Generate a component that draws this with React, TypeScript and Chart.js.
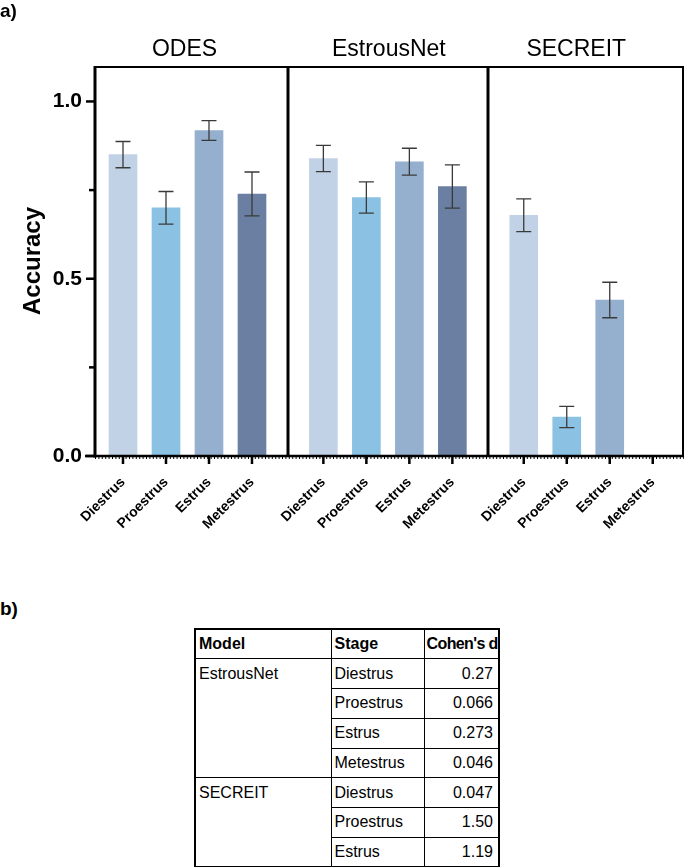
import React, { useEffect, useRef } from 'react';
import { Chart, registerables } from 'chart.js';

Chart.register(...registerables);

// ---------- data ----------
const models = ['ODES', 'EstrousNet', 'SECREIT'];
const stages = ['Diestrus', 'Proestrus', 'Estrus', 'Metestrus'];
const odesMean = [0.85, 0.70, 0.918, 0.739];
const odesErr = [0.037, 0.046, 0.028, 0.062];
const estrousNetMean = [0.839, 0.729, 0.830, 0.760];
const estrousNetErr = [0.037, 0.044, 0.038, 0.061];
const secreitMean: (number | null)[] = [0.679, 0.11, 0.44, null];
const secreitErr: (number | null)[] = [0.046, 0.03, 0.05, null];
const stageColors = ['#c2d2e6', '#8bc1e3', '#95b0cf', '#6a7fa1'];
const yTickValues = [0, 0.25, 0.5, 0.75, 1.0];
const yLabelValues = [0, 0.5, 1.0];

const tableHeader = ['Model', 'Stage', "Cohen's d"];
const tableModel = ['EstrousNet', 'EstrousNet', 'EstrousNet', 'EstrousNet', 'SECREIT', 'SECREIT', 'SECREIT'];
const tableStage = ['Diestrus', 'Proestrus', 'Estrus', 'Metestrus', 'Diestrus', 'Proestrus', 'Estrus'];
const tableD = ['0.27', '0.066', '0.273', '0.046', '0.047', '1.50', '1.19'];

// ---------- layout constants ----------
const FONT = 'Arial, "Liberation Sans", Helvetica, sans-serif';
const GROUP_STRIDE = 4.66; // x-units between first bars of successive groups
const X_MIN = -0.651;
const X_MAX = 13.047;
const Y_MAX = 1.10;

const means = [odesMean, estrousNetMean, secreitMean];
const errs = [odesErr, estrousNetErr, secreitErr];

type Pt = { x: number; y: number | null; err: number | null; g: number; s: number };
const points: Pt[] = [];
models.forEach((_, g) => {
  stages.forEach((_, s) => {
    points.push({ x: g * GROUP_STRIDE + s, y: means[g][s], err: errs[g][s], g, s });
  });
});

const framePlugin = {
  id: 'frame',
  afterDatasetsDraw(chart: any) {
    const { ctx, chartArea } = chart;
    const xs = chart.scales.x;
    const ys = chart.scales.y;
    const { left, right, top, bottom } = chartArea;
    ctx.save();

    // error bars
    const meta = chart.getDatasetMeta(0);
    ctx.strokeStyle = '#3a3a3a';
    ctx.lineWidth = 1.3;
    points.forEach((p, i) => {
      if (p.y == null || p.err == null) return;
      const el = meta.data[i];
      if (!el) return;
      const x = el.x;
      const y1 = ys.getPixelForValue(p.y + p.err);
      const y2 = ys.getPixelForValue(p.y - p.err);
      ctx.beginPath();
      ctx.moveTo(x, y1);
      ctx.lineTo(x, y2);
      ctx.moveTo(x - 7.5, y1);
      ctx.lineTo(x + 7.5, y1);
      ctx.moveTo(x - 7.5, y2);
      ctx.lineTo(x + 7.5, y2);
      ctx.stroke();
    });

    ctx.strokeStyle = '#000';
    // top & right
    ctx.lineWidth = 2;
    ctx.beginPath();
    ctx.moveTo(left, top + 1);
    ctx.lineTo(right - 1, top + 1);
    ctx.lineTo(right - 1, bottom);
    ctx.stroke();

    // dividers between model groups
    ctx.lineWidth = 3;
    for (let g = 1; g < models.length; g++) {
      const v = ((g - 1) * GROUP_STRIDE + stages.length - 1 + g * GROUP_STRIDE) / 2;
      const px = Math.round(xs.getPixelForValue(v));
      ctx.beginPath();
      ctx.moveTo(px, top);
      ctx.lineTo(px, bottom);
      ctx.stroke();
    }
    // left axis
    ctx.beginPath();
    ctx.moveTo(left, top);
    ctx.lineTo(left, bottom + 1.5);
    ctx.stroke();

    // bottom axis
    ctx.lineWidth = 2.5;
    ctx.beginPath();
    ctx.moveTo(left - 10, bottom);
    ctx.lineTo(right, bottom);
    ctx.stroke();
    // fine minor ticks beneath
    ctx.lineWidth = 2;
    ctx.setLineDash([1, 2.4]);
    ctx.beginPath();
    ctx.moveTo(left, bottom + 2);
    ctx.lineTo(right, bottom + 2);
    ctx.stroke();
    ctx.setLineDash([]);

    // y ticks
    ctx.lineWidth = 2.5;
    yTickValues.forEach((v) => {
      const py = ys.getPixelForValue(v);
      const len = yLabelValues.includes(v) ? 9 : 6;
      ctx.beginPath();
      ctx.moveTo(left - len, py);
      ctx.lineTo(left, py);
      ctx.stroke();
    });
    // x ticks
    points.forEach((p) => {
      const px = xs.getPixelForValue(p.x);
      ctx.beginPath();
      ctx.moveTo(px, bottom);
      ctx.lineTo(px, bottom + 8);
      ctx.stroke();
    });

    // panel titles
    ctx.fillStyle = '#000';
    ctx.font = `23px ${FONT}`;
    ctx.textAlign = 'center';
    ctx.textBaseline = 'middle';
    const titleOffsets = [-3, 1, -12];
    models.forEach((m, g) => {
      const c = xs.getPixelForValue(g * GROUP_STRIDE + (stages.length - 1) / 2) + titleOffsets[g];
      ctx.fillText(m, c, top - 16);
    });
    ctx.restore();
  },
};

function BarChart() {
  const ref = useRef<HTMLCanvasElement>(null);
  useEffect(() => {
    if (!ref.current) return;
    const chart = new Chart(ref.current, {
      type: 'bar',
      data: {
        datasets: [
          {
            data: points.map((p) => ({ x: p.x, y: p.y })) as any,
            backgroundColor: points.map((p) => stageColors[p.s]),
            borderWidth: 0,
            barThickness: 28,
          } as any,
        ],
      },
      options: {
        animation: false,
        responsive: false,
        devicePixelRatio: 1,
        layout: { padding: { top: 66, right: 1, left: 0, bottom: 0 } },
        plugins: { legend: { display: false }, tooltip: { enabled: false } },
        scales: {
          x: {
            type: 'linear',
            min: X_MIN,
            max: X_MAX,
            offset: false,
            border: { display: false },
            grid: { display: false, drawTicks: false },
            afterBuildTicks: (scale: any) => {
              scale.ticks = points.map((p) => ({ value: p.x }));
            },
            afterFit: (scale: any) => {
              scale.height = 104;
            },
            ticks: {
              autoSkip: false,
              minRotation: 45,
              maxRotation: 45,
              padding: 18,
              color: '#000',
              font: { family: FONT, size: 14, weight: 'bold' },
              callback: (_v: any, i: number) => stages[points[i].s],
            },
          },
          y: {
            min: 0,
            max: Y_MAX,
            border: { display: false },
            grid: { display: false, drawTicks: false },
            afterBuildTicks: (scale: any) => {
              scale.ticks = yTickValues.map((v) => ({ value: v }));
            },
            afterFit: (scale: any) => {
              scale.width = 95;
            },
            ticks: {
              padding: 13,
              color: '#000',
              font: { family: FONT, size: 21, weight: 'bold' },
              callback: (v: any) => (yLabelValues.includes(Number(v)) ? Number(v).toFixed(1) : ''),
            },
            title: {
              display: true,
              text: 'Accuracy',
              color: '#000',
              font: { family: FONT, size: 24, weight: 'bold' },
              padding: { top: 19, bottom: 0 },
            },
          },
        },
      },
      plugins: [framePlugin],
    });
    return () => chart.destroy();
  }, []);
  return <canvas ref={ref} width={685} height={560} style={{ position: 'absolute', left: 0, top: 0 }} />;
}

export default function App() {
  const cell: React.CSSProperties = {
    border: '1px solid #000',
    padding: '0 4px 0 3px',
    height: 29.75,
    boxSizing: 'border-box',
    verticalAlign: 'middle',
    whiteSpace: 'nowrap',
  };
  const rows: React.ReactNode[] = [];
  tableModel.forEach((m, i) => {
    const first = i === 0 || tableModel[i - 1] !== m;
    const span = tableModel.filter((x) => x === m).length;
    rows.push(
      <tr key={i} style={{ height: 29.75 }}>
        {first && (
          <td rowSpan={span} style={{ ...cell, verticalAlign: 'top', paddingTop: 6 }}>
            {m}
          </td>
        )}
        <td style={cell}>{tableStage[i]}</td>
        <td style={{ ...cell, textAlign: 'right', paddingRight: 5 }}>{tableD[i]}</td>
      </tr>
    );
  });
  return (
    <div style={{ position: 'absolute', left: 0, top: 0, width: 685, height: 867, background: '#fff', fontFamily: FONT }}>
      <BarChart />
      <div style={{ position: 'absolute', left: 0, top: 0, font: `bold 19px ${FONT}` }}>a)</div>
      <div style={{ position: 'absolute', left: 0, top: 598, font: `bold 19px ${FONT}` }}>b)</div>
      <table
        style={{
          position: 'absolute',
          left: 194,
          top: 628,
          width: 304,
          borderCollapse: 'collapse',
          border: '2px solid #000',
          fontFamily: FONT,
          fontSize: 16,
          tableLayout: 'fixed',
          color: '#000',
        }}
      >
        <colgroup>
          <col style={{ width: 136 }} />
          <col style={{ width: 93 }} />
          <col style={{ width: 75 }} />
        </colgroup>
        <tbody>
          <tr style={{ height: 29.75 }}>
            {tableHeader.map((h, i) => (
              <td
                key={i}
                style={{
                  ...cell,
                  fontWeight: 'bold',
                  ...(i === 2 ? { letterSpacing: -0.6, paddingLeft: 2, paddingRight: 0, overflow: 'visible' } : {}),
                }}
              >
                {h}
              </td>
            ))}
          </tr>
          {rows}
        </tbody>
      </table>
    </div>
  );
}
